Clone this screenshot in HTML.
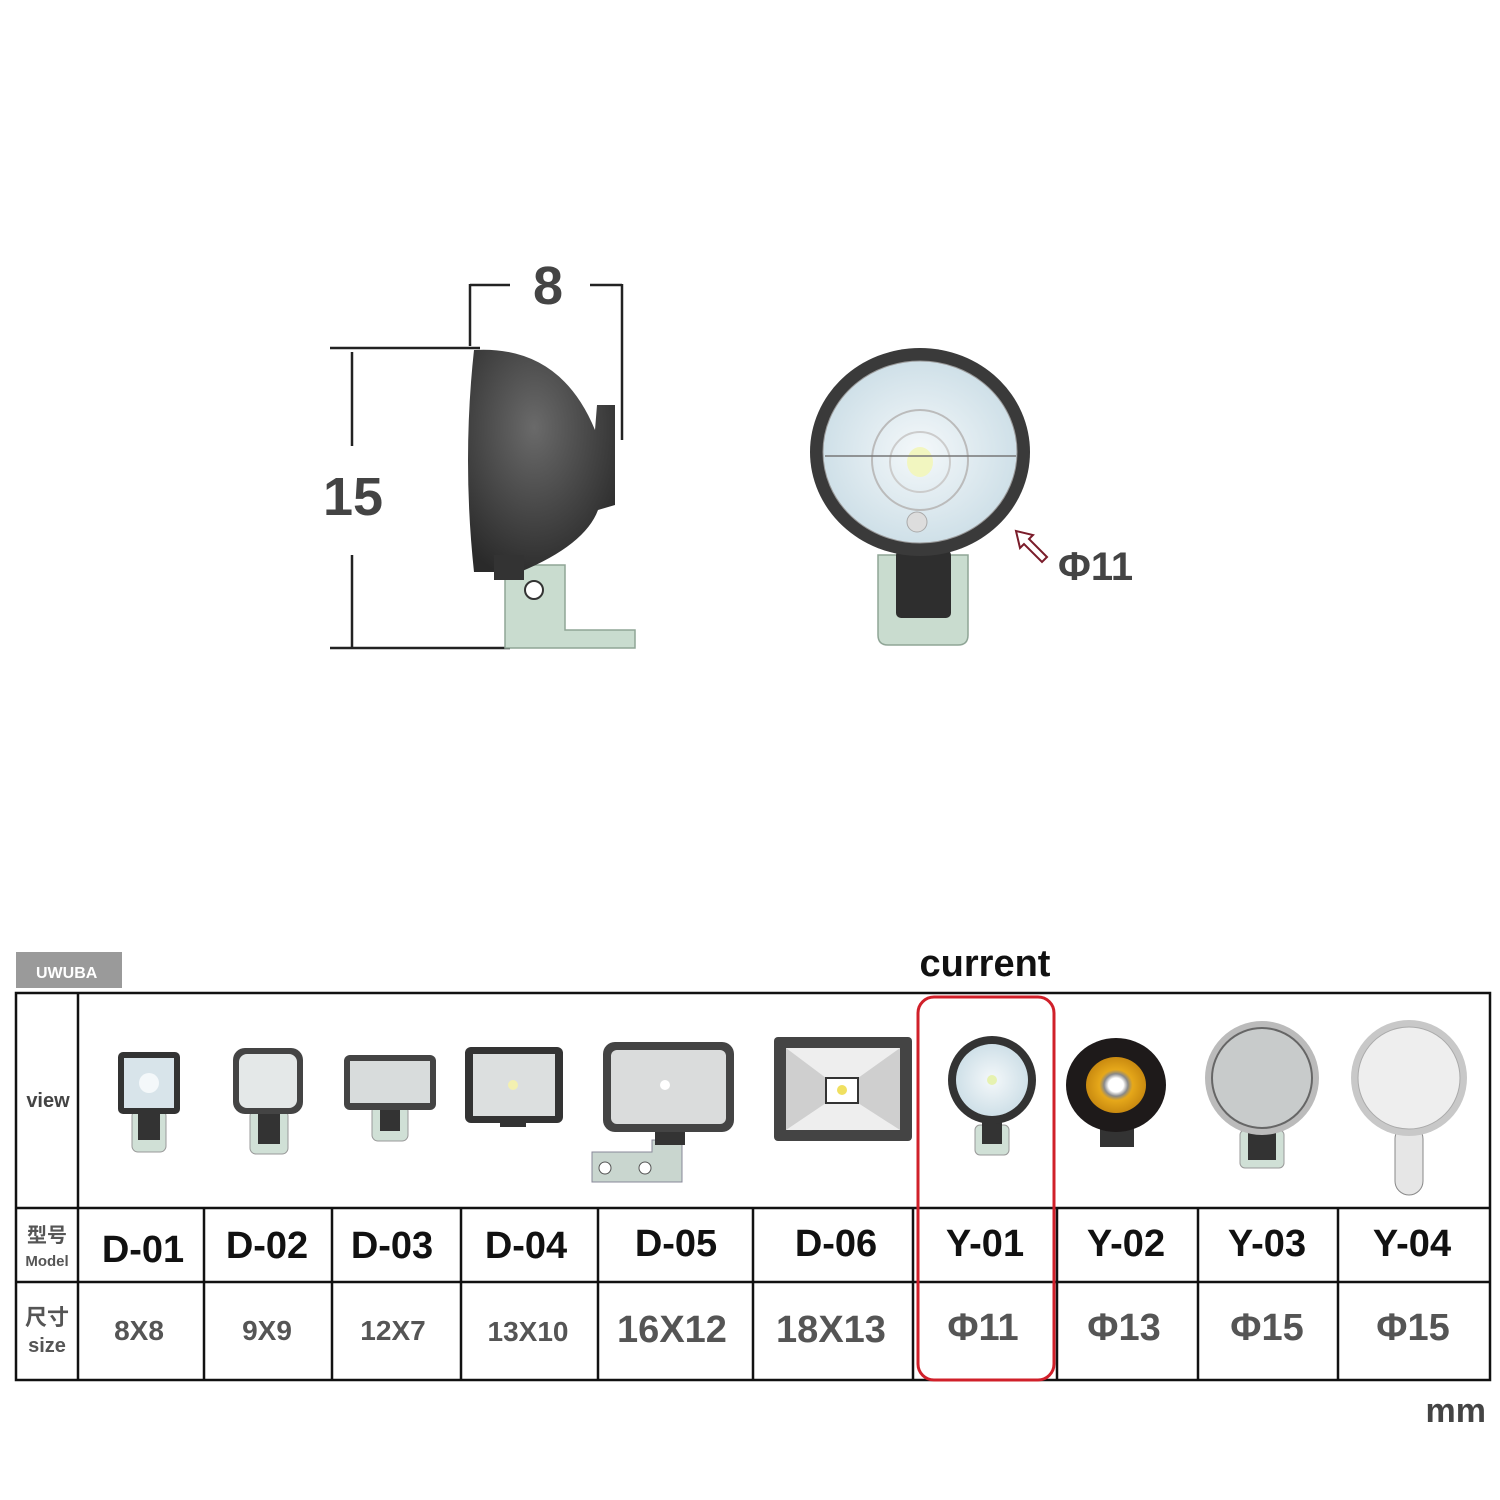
<!DOCTYPE html>
<html><head><meta charset="utf-8"><style>
body{margin:0;background:#fff}
svg{display:block}
text{font-family:"Liberation Sans","Noto Sans CJK SC",sans-serif;font-weight:bold}
</style></head><body>
<svg width="1500" height="1500" viewBox="0 0 1500 1500">
<defs>
<radialGradient id="dk" cx="0.45" cy="0.35" r="0.7"><stop offset="0" stop-color="#6a6a6a"/><stop offset="1" stop-color="#2a2a2a"/></radialGradient>
<radialGradient id="lens" cx="0.5" cy="0.5" r="0.5"><stop offset="0" stop-color="#f4f8fa"/><stop offset="1" stop-color="#cfe0e8"/></radialGradient>
<radialGradient id="amb" cx="0.5" cy="0.5" r="0.5"><stop offset="0.25" stop-color="#fff"/><stop offset="0.4" stop-color="#888"/><stop offset="0.55" stop-color="#e6a81a"/><stop offset="1" stop-color="#c98a10"/></radialGradient>
</defs>
<!-- dimensions -->
<g stroke="#222" stroke-width="2.5" fill="none">
<line x1="352" y1="352" x2="352" y2="446"/><line x1="352" y1="555" x2="352" y2="648"/>
<line x1="330" y1="348" x2="480" y2="348"/><line x1="330" y1="648" x2="510" y2="648"/>
<line x1="470" y1="284" x2="470" y2="346"/><line x1="622" y1="284" x2="622" y2="440"/>
<line x1="470" y1="285" x2="510" y2="285"/><line x1="590" y1="285" x2="622" y2="285"/>
</g>
<text x="353" y="515" font-size="54" fill="#444" text-anchor="middle">15</text>
<text x="548" y="304" font-size="54" fill="#444" text-anchor="middle">8</text>
<!-- side view -->
<path d="M505 565 h60 v65 h70 v18 h-130z" fill="#c9dccf" stroke="#8fa596" stroke-width="1.5"/>
<circle cx="534" cy="590" r="9" fill="#fff" stroke="#333" stroke-width="2"/>
<path d="M474 350 Q560 345 595 430 L597 405 L615 405 L615 505 L598 510 Q585 545 520 572 L474 572 Q462 460 474 350z" fill="url(#dk)"/>
<rect x="494" y="555" width="30" height="25" fill="#333"/>
<!-- front view -->
<path d="M878 555 h90 v80 q0 10 -10 10 h-70 q-10 0 -10 -10z" fill="#c9dccf" stroke="#8fa596" stroke-width="1.5"/>
<rect x="896" y="550" width="55" height="68" rx="5" fill="#2e2e2e"/>
<ellipse cx="920" cy="452" rx="110" ry="104" fill="#3a3a3a"/>
<ellipse cx="920" cy="452" rx="97" ry="91" fill="url(#lens)" stroke="#999"/>
<ellipse cx="920" cy="460" rx="48" ry="50" fill="none" stroke="#bbb" stroke-width="2"/>
<ellipse cx="920" cy="462" rx="30" ry="30" fill="none" stroke="#ccc" stroke-width="2"/>
<ellipse cx="920" cy="462" rx="13" ry="15" fill="#f2f6c0"/>
<line x1="825" y1="456" x2="1016" y2="456" stroke="#777" stroke-width="1.5"/>
<circle cx="917" cy="522" r="10" fill="#ddd" stroke="#aaa"/>
<path d="M1016 531 l4 17 l4 -4 l18 18 l5 -5 l-18 -18 l4 -4z" fill="#fff" stroke="#7a1c2a" stroke-width="2"/>
<text x="1058" y="580" font-size="40" fill="#444">Φ11</text>
<!-- logo -->
<rect x="16" y="952" width="106" height="36" fill="#9a9a9a"/>
<text x="36" y="978" font-size="16" fill="#fff">UWUBA</text>
<text x="985" y="976" font-size="38" fill="#111" text-anchor="middle">current</text>
<!-- table -->
<g stroke="#111" stroke-width="2.5" fill="none">
<rect x="16" y="993" width="1474" height="387"/>
<line x1="78" y1="993" x2="78" y2="1380"/>
<line x1="78" y1="1208" x2="1490" y2="1208"/>
<line x1="16" y1="1208" x2="78" y2="1208"/>
<line x1="16" y1="1282" x2="1490" y2="1282"/>
<line x1="204" y1="1208" x2="204" y2="1380"/><line x1="332" y1="1208" x2="332" y2="1380"/>
<line x1="461" y1="1208" x2="461" y2="1380"/><line x1="598" y1="1208" x2="598" y2="1380"/>
<line x1="753" y1="1208" x2="753" y2="1380"/><line x1="913" y1="1208" x2="913" y2="1380"/>
<line x1="1057" y1="1208" x2="1057" y2="1380"/><line x1="1198" y1="1208" x2="1198" y2="1380"/>
<line x1="1338" y1="1208" x2="1338" y2="1380"/>
</g>
<rect x="918" y="997" width="136" height="383" rx="16" fill="none" stroke="#d0202a" stroke-width="3"/>
<text x="48" y="1107" font-size="20" fill="#444" text-anchor="middle">view</text>
<text x="47" y="1242" font-size="20" fill="#555" text-anchor="middle">型号</text>
<text x="47" y="1266" font-size="15" fill="#555" text-anchor="middle">Model</text>
<text x="47" y="1325" font-size="22" fill="#555" text-anchor="middle">尺寸</text>
<text x="47" y="1352" font-size="20" fill="#555" text-anchor="middle">size</text>
<g font-size="38" fill="#111" text-anchor="middle">
<text x="143" y="1262">D-01</text><text x="267" y="1258">D-02</text><text x="392" y="1258">D-03</text>
<text x="526" y="1258">D-04</text><text x="676" y="1256">D-05</text><text x="836" y="1256">D-06</text>
<text x="985" y="1256">Y-01</text><text x="1126" y="1256">Y-02</text><text x="1267" y="1256">Y-03</text><text x="1412" y="1256">Y-04</text>
</g>
<g fill="#555" text-anchor="middle">
<text x="139" y="1340" font-size="28">8X8</text><text x="267" y="1340" font-size="28">9X9</text>
<text x="393" y="1340" font-size="28">12X7</text><text x="528" y="1341" font-size="28">13X10</text>
<text x="672" y="1342" font-size="38">16X12</text><text x="831" y="1342" font-size="38">18X13</text>
<text x="983" y="1340" font-size="38">Φ11</text><text x="1124" y="1340" font-size="38">Φ13</text>
<text x="1267" y="1340" font-size="38">Φ15</text><text x="1413" y="1340" font-size="38">Φ15</text>
</g>
<text x="1486" y="1422" font-size="34" fill="#444" text-anchor="end">mm</text>
<!-- icons -->
<g>
<!-- D-01 -->
<rect x="132" y="1110" width="34" height="42" rx="6" fill="#d0e0d6" stroke="#999"/>
<rect x="138" y="1108" width="22" height="32" fill="#333"/>
<rect x="118" y="1052" width="62" height="62" rx="5" fill="#333"/>
<rect x="124" y="1058" width="50" height="50" fill="#d8e4ea"/>
<circle cx="149" cy="1083" r="10" fill="#f4f8fa"/>
<!-- D-02 -->
<rect x="250" y="1110" width="38" height="44" rx="6" fill="#d0e0d6" stroke="#999"/>
<rect x="258" y="1108" width="22" height="36" fill="#333"/>
<rect x="233" y="1048" width="70" height="66" rx="12" fill="#444"/>
<rect x="239" y="1054" width="58" height="54" rx="8" fill="#e4e8e8"/>
<!-- D-03 -->
<rect x="372" y="1105" width="36" height="36" rx="6" fill="#d0e0d6" stroke="#999"/>
<rect x="380" y="1103" width="20" height="28" fill="#333"/>
<rect x="344" y="1055" width="92" height="55" rx="6" fill="#444"/>
<rect x="350" y="1061" width="80" height="42" fill="#d8dcdc"/>
<!-- D-04 -->
<rect x="500" y="1115" width="26" height="12" fill="#333"/>
<rect x="465" y="1047" width="98" height="76" rx="6" fill="#333"/>
<rect x="473" y="1054" width="82" height="62" fill="#dcdfdf"/>
<circle cx="513" cy="1085" r="5" fill="#f3f0b0"/>
<!-- D-05 -->
<path d="M592 1152 h60 v-12 h30 v42 h-90z" fill="#c9d6cf" stroke="#889"/>
<circle cx="605" cy="1168" r="6" fill="#fff" stroke="#555"/><circle cx="645" cy="1168" r="6" fill="#fff" stroke="#555"/>
<rect x="655" y="1125" width="30" height="20" fill="#333"/>
<rect x="603" y="1042" width="131" height="90" rx="12" fill="#444"/>
<rect x="611" y="1050" width="115" height="74" rx="6" fill="#dadcdc"/>
<circle cx="665" cy="1085" r="5" fill="#fff"/>
<!-- D-06 -->
<rect x="774" y="1037" width="138" height="104" rx="4" fill="#444"/>
<rect x="786" y="1048" width="114" height="82" fill="#eee"/>
<path d="M786 1048 L826 1078 L858 1078 L900 1048 L900 1130 L858 1103 L826 1103 L786 1130z" fill="#cfcfcf"/>
<rect x="826" y="1078" width="32" height="25" fill="#fff" stroke="#333" stroke-width="2"/>
<circle cx="842" cy="1090" r="5" fill="#f0e060"/>
<!-- Y-01 -->
<rect x="975" y="1125" width="34" height="30" rx="5" fill="#d0e0d6" stroke="#999"/>
<rect x="982" y="1120" width="20" height="24" fill="#333"/>
<ellipse cx="992" cy="1080" rx="44" ry="44" fill="#333"/>
<ellipse cx="992" cy="1080" rx="36" ry="36" fill="url(#lens)"/>
<circle cx="992" cy="1080" r="5" fill="#e6f2b0"/>
<!-- Y-02 -->
<rect x="1100" y="1125" width="34" height="22" fill="#333"/>
<ellipse cx="1116" cy="1085" rx="50" ry="47" fill="#1e1a1a"/>
<ellipse cx="1116" cy="1085" rx="30" ry="28" fill="url(#amb)"/>
<!-- Y-03 -->
<rect x="1240" y="1130" width="44" height="38" rx="5" fill="#d0e0d6" stroke="#999"/>
<rect x="1248" y="1125" width="28" height="35" fill="#333"/>
<circle cx="1262" cy="1078" r="57" fill="#bbb"/>
<circle cx="1262" cy="1078" r="50" fill="#c8cbcb" stroke="#666" stroke-width="2"/>
<!-- Y-04 -->
<rect x="1395" y="1125" width="28" height="70" rx="14" fill="#e6e6e6" stroke="#888"/>
<circle cx="1409" cy="1078" r="58" fill="#c8c8c8"/>
<circle cx="1409" cy="1078" r="51" fill="#eee" stroke="#aaa"/>
</g>
</svg>
</body></html>
